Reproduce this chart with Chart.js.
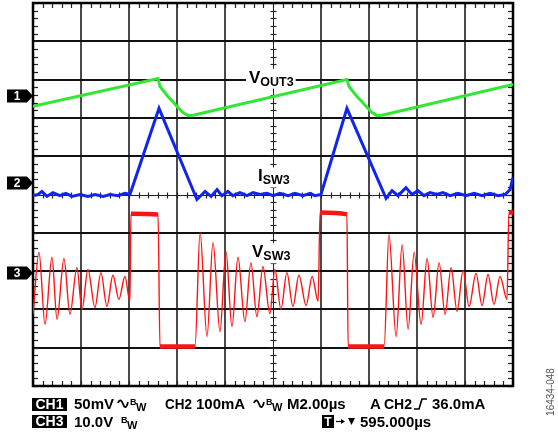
<!DOCTYPE html>
<html>
<head>
<meta charset="utf-8">
<script src="https://cdn.jsdelivr.net/npm/chart.js@4.4.0/dist/chart.umd.min.js"></script>
<style>
  html, body { margin: 0; padding: 0; background: #fff; }
  #scope { display: block; }
</style>
</head>
<body>
<canvas id="scope" width="558" height="440"></canvas>
<script>
// x = time in us (M2.00us/div, trigger at 0), y = screen divisions (0 = centre)

// CH1: V_OUT3 ripple
const ch1Time = [-10.00, -4.79, -4.71, -4.54, -4.38, -4.17, -4.00, -3.75, -3.54, -3.33,
                  3.08,  3.17,  3.33,  3.50,  3.71,  3.88,  4.13,  4.33,  4.54, 10.00];
const ch1Div  = [ 2.30,  3.03,  2.82,  2.69,  2.56,  2.42,  2.30,  2.14,  2.06,  2.07,
                  3.00,  2.82,  2.69,  2.56,  2.42,  2.30,  2.14,  2.06,  2.07,  2.87];

// CH2: I_SW3 inductor current
const ch2Time = [-10.00, -9.79, -9.63, -9.42, -9.17, -8.88, -8.63, -8.38, -8.04, -7.71,
                  -7.42, -7.08, -6.79, -6.46, -6.17, -5.96, -4.75, -3.17, -2.83, -2.58,
                  -2.33, -2.13, -1.88, -1.67, -1.38, -1.08, -0.83, -0.54, -0.25,  0.00,
                   0.29,  0.63,  0.92,  1.25,  1.54,  1.75,  2.00,  3.08,  4.71,  4.96,
                   5.21,  5.54,  5.79,  6.04,  6.29,  6.54,  6.83,  7.08,  7.38,  7.71,
                   8.04,  8.38,  8.71,  9.04,  9.38,  9.67,  9.88, 10.00];
const ch2Div  = [-0.03,  0.00,  0.08, -0.05,  0.05, -0.03,  0.03, -0.05,  0.00, -0.05,
                  0.00, -0.05,  0.00, -0.03,  0.03,  0.00,  2.25, -0.13,  0.08, -0.05,
                  0.13, -0.03,  0.08, -0.03,  0.05, -0.03,  0.05,  0.00,  0.03, -0.03,
                  0.03, -0.03,  0.03, -0.03,  0.03, -0.03,  0.00,  2.25, -0.10,  0.10,
                 -0.03,  0.18,  0.00,  0.10, -0.03,  0.05,  0.00,  0.05, -0.03,  0.03,
                 -0.03,  0.03, -0.03,  0.03, -0.03,  0.00,  0.13,  0.44];

// CH3: V_SW3 switch node
const ch3Time = [-10.00, -9.75, -9.50, -9.21, -9.00, -8.71, -8.46, -8.17, -7.96, -7.71,
                  -7.42, -7.17, -6.92, -6.67, -6.42, -6.17, -5.96, -5.92, -4.79, -4.71,
                  -3.25, -3.04, -2.75, -2.50, -2.21, -1.96, -1.71, -1.46, -1.17, -0.92,
                  -0.67, -0.42, -0.13,  0.08,  0.33,  0.58,  0.83,  1.08,  1.38,  1.63,
                   1.88,  1.96,  3.08,  3.13,  4.63,  4.83,  5.13,  5.38,  5.63,  5.88,
                   6.17,  6.42,  6.67,  6.92,  7.17,  7.42,  7.67,  7.92,  8.17,  8.46,
                   8.71,  8.96,  9.21,  9.46,  9.75,  9.83, 10.00];
const ch3Div  = [-3.13, -1.51, -3.39, -1.64, -3.26, -1.67, -3.13, -1.91, -3.00, -1.96,
                 -2.95, -2.04, -2.92, -2.11, -2.74, -2.14, -2.79, -0.50, -0.52, -3.97,
                 -3.97, -0.99, -3.71, -1.25, -3.58, -1.49, -3.45, -1.64, -3.32, -1.78,
                 -3.19, -1.88, -3.11, -1.96, -3.00, -2.04, -2.92, -2.11, -2.90, -2.14,
                 -2.79, -0.47, -0.52, -3.97, -3.97, -1.04, -3.71, -1.31, -3.52, -1.51,
                 -3.39, -1.67, -3.21, -1.78, -3.13, -1.91, -3.05, -1.98, -2.92, -2.06,
                 -2.90, -2.09, -2.87, -2.14, -2.74, -0.47, -0.47];

// channel ground markers (divisions)
const chNames = ['1', '2', '3'];
const chRef = [2.56, 0.31, -2.04];

const pts = (xs, ys) => xs.map((t, i) => ({ x: t, y: ys[i] }));

const FONT = '"Liberation Sans", Arial, sans-serif';

function traceLabel(ctx, x, y, main, sub, t, v) {
  const px = x.getPixelForValue(t), py = y.getPixelForValue(v);
  ctx.font = 'bold 17px ' + FONT;
  const w1 = ctx.measureText(main).width;
  ctx.font = 'bold 12.5px ' + FONT;
  const w2 = ctx.measureText(sub).width;
  ctx.fillStyle = '#fff';
  ctx.fillRect(px - 3, py - 14, w1 + w2 + 5, 20);
  ctx.fillStyle = '#000';
  ctx.textBaseline = 'alphabetic';
  ctx.textAlign = 'left';
  ctx.font = 'bold 17px ' + FONT;
  ctx.fillText(main, px, py);
  ctx.font = 'bold 12.5px ' + FONT;
  ctx.fillText(sub, px + w1, py + 3);
}

const scopeGrid = {
  id: 'scopeGrid',
  beforeDatasetsDraw(chart) {
    const { ctx, chartArea: a, scales: { x, y } } = chart;
    const seg = (x1, y1, x2, y2) => { ctx.beginPath(); ctx.moveTo(x1, y1); ctx.lineTo(x2, y2); ctx.stroke(); };
    ctx.save();

    // major divisions
    ctx.strokeStyle = '#4a4a4a';
    ctx.lineWidth = 2;
    for (let t = -8; t <= 8; t += 2) {
      if (t === 0) continue;
      const p = Math.round(x.getPixelForValue(t));
      seg(p, a.top, p, a.bottom);
    }
    ctx.strokeStyle = '#111';
    for (let v = -4; v <= 4; v++) {
      if (v === 0) continue;
      const p = Math.round(y.getPixelForValue(v));
      seg(a.left, p, a.right, p);
    }

    // centre axes with minor ticks
    const cx = Math.round(x.getPixelForValue(0)) + 0.5;
    const cy = Math.round(y.getPixelForValue(0)) + 0.5;
    ctx.strokeStyle = '#222';
    ctx.lineWidth = 1;
    seg(cx, a.top, cx, a.bottom);
    seg(a.left, cy, a.right, cy);
    ctx.lineWidth = 1.2;
    for (let i = 0; i <= 50; i++) {
      const p = Math.round(x.getPixelForValue(-10 + i * 0.4)) + 0.5;
      seg(p, cy - 3, p, cy + 3);
      seg(p, a.top, p, a.top + 5);
      seg(p, a.bottom - 5, p, a.bottom);
    }
    for (let i = 0; i <= 50; i++) {
      const p = Math.round(y.getPixelForValue(-5 + i * 0.2)) + 0.5;
      seg(cx - 3, p, cx + 3, p);
      seg(a.left, p, a.left + 5, p);
      seg(a.right - 5, p, a.right, p);
    }

    // trace names
    traceLabel(ctx, x, y, 'V', 'OUT3', -1.0, 2.92);
    traceLabel(ctx, x, y, 'I', 'SW3', -0.625, 0.34);
    traceLabel(ctx, x, y, 'V', 'SW3', -0.875, -1.64);

    // frame
    ctx.strokeStyle = '#000';
    ctx.lineWidth = 2.5;
    ctx.strokeRect(a.left, a.top, a.width, a.height);
    ctx.restore();
  }
};

function blackTag(ctx, text, x0, y0, w, h, size) {
  ctx.fillStyle = '#000';
  ctx.fillRect(x0, y0, w, h);
  ctx.fillStyle = '#fff';
  ctx.font = 'bold ' + size + 'px ' + FONT;
  ctx.textAlign = 'center';
  ctx.textBaseline = 'middle';
  ctx.fillText(text, x0 + w / 2, y0 + h / 2 + 1, w - 2);
  ctx.textAlign = 'left';
  ctx.textBaseline = 'alphabetic';
}

function word(ctx, text, x0, yb, size, w) {
  ctx.fillStyle = '#000';
  ctx.font = 'bold ' + size + 'px ' + FONT;
  ctx.textAlign = 'left';
  ctx.textBaseline = 'alphabetic';
  if (w) ctx.fillText(text, x0, yb, w); else ctx.fillText(text, x0, yb);
}

function acWave(ctx, x0, yc) {
  ctx.strokeStyle = '#000';
  ctx.lineWidth = 1.8;
  ctx.beginPath();
  ctx.moveTo(x0, yc - 1);
  ctx.bezierCurveTo(x0 + 2, yc - 6, x0 + 4, yc - 3, x0 + 5, yc);
  ctx.bezierCurveTo(x0 + 6, yc + 3, x0 + 8, yc + 6, x0 + 10, yc - 2);
  ctx.stroke();
}

function bwMark(ctx, x0, yb) {
  word(ctx, 'B', x0, yb - 4, 9);
  word(ctx, 'W', x0 + 6, yb + 2, 11);
}

const scopeText = {
  id: 'scopeText',
  afterDraw(chart) {
    const { ctx, chartArea: a, scales: { y } } = chart;
    ctx.save();

    // channel markers on the left edge
    chNames.forEach((n, i) => {
      const py = Math.round(y.getPixelForValue(chRef[i]));
      ctx.fillStyle = '#000';
      ctx.beginPath();
      ctx.moveTo(7, py - 6.5);
      ctx.lineTo(27, py - 6.5);
      ctx.lineTo(a.left, py);
      ctx.lineTo(27, py + 6.5);
      ctx.lineTo(7, py + 6.5);
      ctx.closePath();
      ctx.fill();
      ctx.fillStyle = '#fff';
      ctx.font = 'bold 12px ' + FONT;
      ctx.textAlign = 'center';
      ctx.textBaseline = 'middle';
      ctx.fillText(n, 17, py + 1);
    });

    // readout, row 1
    const r1 = 409, r2 = 427;
    blackTag(ctx, 'CH1', 32, 398, 35, 13, 14);
    word(ctx, '50mV', 74, r1, 15, 41);
    acWave(ctx, 118, 404);
    bwMark(ctx, 130, r1);
    word(ctx, 'CH2', 165, r1, 15, 27);
    word(ctx, '100mA', 196, r1, 15, 50);
    acWave(ctx, 254, 404);
    bwMark(ctx, 266, r1);
    word(ctx, 'M2.00\u00b5s', 287, r1, 15, 59);
    word(ctx, 'A', 370, r1, 15, 11);
    word(ctx, 'CH2', 384, r1, 15, 28);
    ctx.strokeStyle = '#000';
    ctx.lineWidth = 1.6;
    ctx.beginPath();
    ctx.moveTo(414, r1); ctx.lineTo(419, r1); ctx.lineTo(422, r1 - 10); ctx.lineTo(427, r1 - 10);
    ctx.stroke();
    word(ctx, '36.0mA', 432, r1, 15, 64);

    // readout, row 2
    blackTag(ctx, 'CH3', 32, 415, 35, 13, 14);
    word(ctx, '10.0V', 74, r2, 15, 45);
    bwMark(ctx, 121, r2);
    blackTag(ctx, 'T', 322, 415, 12, 13, 12);
    ctx.strokeStyle = '#000';
    ctx.lineWidth = 1.2;
    ctx.beginPath(); ctx.moveTo(336, 421.5); ctx.lineTo(343, 421.5); ctx.stroke();
    ctx.fillStyle = '#000';
    ctx.beginPath(); ctx.moveTo(345, 421.5); ctx.lineTo(341, 419); ctx.lineTo(341, 424); ctx.closePath(); ctx.fill();
    ctx.beginPath(); ctx.moveTo(348, 418); ctx.lineTo(355, 418); ctx.lineTo(351.5, 425); ctx.closePath(); ctx.fill();
    word(ctx, '595.000\u00b5s', 360, r2, 15, 72);

    // figure number
    ctx.translate(551, 392);
    ctx.rotate(-Math.PI / 2);
    ctx.fillStyle = '#555';
    ctx.font = '10px ' + FONT;
    ctx.textAlign = 'center';
    ctx.textBaseline = 'middle';
    ctx.fillText('16434-048', 0, 0);
    ctx.restore();
  }
};

new Chart(document.getElementById('scope'), {
  type: 'line',
  data: {
    datasets: [
      {
        label: 'VSW3',
        data: pts(ch3Time, ch3Div),
        borderColor: '#ff1414',
        borderWidth: 1.4,
        cubicInterpolationMode: 'monotone',
        segment: {
          borderWidth: c => Math.abs(c.p0.parsed.y - c.p1.parsed.y) < 0.1 ? 4.5 : undefined
        }
      },
      {
        label: 'ISW3',
        data: pts(ch2Time, ch2Div),
        borderColor: '#1024f0',
        borderWidth: 3,
        tension: 0
      },
      {
        label: 'VOUT3',
        data: pts(ch1Time, ch1Div),
        borderColor: '#33e633',
        borderWidth: 3,
        tension: 0
      }
    ]
  },
  options: {
    responsive: false,
    animation: false,
    layout: { padding: { left: 33, top: 3, right: 45, bottom: 54 } },
    elements: { point: { radius: 0 } },
    plugins: { legend: { display: false }, tooltip: { enabled: false } },
    scales: {
      x: { type: 'linear', min: -10, max: 10, display: false },
      y: { type: 'linear', min: -5, max: 5, display: false }
    }
  },
  plugins: [scopeGrid, scopeText]
});
</script>
</body>
</html>
